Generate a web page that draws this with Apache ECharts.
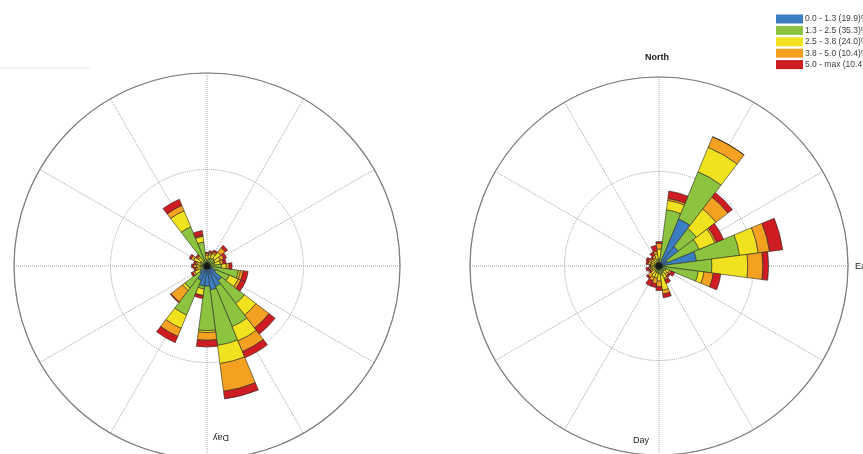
<!DOCTYPE html>
<html>
<head>
<meta charset="utf-8">
<script src="https://cdn.jsdelivr.net/npm/echarts@6/dist/echarts.min.js"></script>
<style>
  html, body { margin: 0; padding: 0; background: #ffffff; }
  #chart { width: 863px; height: 454px; }
</style>
</head>
<body>
<div id="chart"></div>
<script>
// Wind directions, 15 degree sectors clockwise from north
const directions = ['0', '15', '30', '45', '60', '75', '90', '105', '120', '135', '150', '165',
                    '180', '195', '210', '225', '240', '255', '270', '285', '300', '315', '330', '345'];

// Wind speed classes (legend)
const speedClasses = ['0.0 - 1.3 (19.9)%', '1.3 - 2.5 (35.3)%', '2.5 - 3.8 (24.0)%', '3.8 - 5.0 (10.4)%', '5.0 - max (10.4)%'];
const classColors = ['#3a7dc2', '#8cc43f', '#f0e21e', '#f4a020', '#cf1b22'];

// Left rose: frequency (%) per direction for each speed class
const leftBlue   = [0.05, 0.05, 0.1, 0.1, 0.1, 0.1, 0.15, 0.3, 0.5, 0.95, 1.15, 1.25, 1.05, 1.05, 0.8, 0.5, 0.15, 0.1, 0.1, 0.1, 0.1, 0.05, 0.05, 0.05];
const leftGreen  = [0.25, 0.35, 0.35, 0.4, 0.35, 0.3, 0.6, 1.35, 0.75, 1.5, 2.25, 2.9, 2.3, 0.15, 1.95, 0.95, 0.25, 0.2, 0.25, 0.2, 0.3, 0.25, 2.15, 1.2];
const leftYellow = [0.25, 0.2, 0.25, 0.4, 0.3, 0.3, 0.25, 0.1, 0.5, 0.75, 0.8, 0.95, 0.1, 0.35, 0.75, 0.15, 0.3, 0.2, 0.2, 0.2, 0.35, 0.25, 0.9, 0.3];
const leftOrange = [0.1, 0.1, 0.1, 0.3, 0.2, 0.15, 0.15, 0.15, 0.15, 0.85, 0.6, 1.45, 0.4, 0.0, 0.45, 0.75, 0.1, 0.1, 0.15, 0.1, 0.15, 0.1, 0.3, 0.05];
const leftRed    = [0.05, 0.1, 0.1, 0.15, 0.15, 0.15, 0.15, 0.25, 0.25, 0.4, 0.35, 0.4, 0.35, 0.15, 0.35, 0.05, 0.1, 0.1, 0.1, 0.1, 0.1, 0.1, 0.35, 0.25];

// Right rose: frequency (%) per direction for each speed class
const rightBlue   = [0.1, 0.1, 2.7, 1.3, 0.5, 2.0, 0.3, 0.2, 0.1, 0.05, 0.1, 0.1, 0.1, 0.05, 0.05, 0.05, 0.05, 0.05, 0.05, 0.05, 0.05, 0.05, 0.05, 0.05];
const rightGreen  = [0.3, 2.9, 2.7, 1.2, 1.8, 2.3, 2.5, 1.9, 0.3, 0.3, 0.3, 0.4, 0.3, 0.3, 0.3, 0.2, 0.15, 0.2, 0.15, 0.2, 0.2, 0.15, 0.2, 0.3];
const rightYellow = [0.5, 0.5, 1.4, 1.3, 0.9, 1.0, 1.9, 0.3, 0.2, 0.2, 0.3, 0.8, 0.4, 0.3, 0.3, 0.3, 0.2, 0.2, 0.15, 0.2, 0.2, 0.2, 0.2, 0.3];
const rightOrange = [0.3, 0.1, 0.6, 0.8, 0.1, 0.6, 0.8, 0.5, 0.1, 0.1, 0.1, 0.2, 0.3, 0.3, 0.2, 0.2, 0.1, 0.1, 0.1, 0.15, 0.15, 0.1, 0.15, 0.15];
const rightRed    = [0.1, 0.4, 0.0, 0.3, 0.4, 0.7, 0.3, 0.4, 0.2, 0.1, 0.2, 0.2, 0.2, 0.2, 0.3, 0.1, 0.1, 0.15, 0.05, 0.1, 0.15, 0.1, 0.2, 0.3];

// Radial scale: dotted ring every 5 %, solid outer circle at 10 %
const radiusMax = 10;
const ringStep = 5;

const leftClasses = [leftBlue, leftGreen, leftYellow, leftOrange, leftRed];
const rightClasses = [rightBlue, rightGreen, rightYellow, rightOrange, rightRed];

const FONT = 'Liberation Sans, Arial, sans-serif';
const leftCenter = [207, 266];
const rightCenter = [659, 266];
const LEFT_R = 193;
const RIGHT_R = 189;

function gridAngleAxis(polarIndex) {
  return {
    polarIndex, type: 'value', min: 0, max: 360, interval: 30,
    startAngle: 90, clockwise: true,
    axisLine: { show: true, lineStyle: { color: '#7c7c7c', width: 1.2 } },
    axisTick: { show: false }, axisLabel: { show: false },
    splitLine: { show: true, lineStyle: { color: '#a0a0a0', type: 'dotted', width: 1 } }
  };
}
function gridRadiusAxis(polarIndex) {
  return {
    polarIndex, type: 'value', min: 0, max: radiusMax, interval: ringStep,
    axisLine: { show: false }, axisTick: { show: false }, axisLabel: { show: false },
    splitLine: { show: true, lineStyle: { color: '#a0a0a0', type: 'dotted', width: 1 } }
  };
}
function dataAngleAxis(polarIndex) {
  return {
    polarIndex, type: 'category', data: directions,
    startAngle: 97.5, clockwise: true,
    axisLine: { show: false }, axisTick: { show: false }, axisLabel: { show: false },
    splitLine: { show: false }
  };
}
function dataRadiusAxis(polarIndex) {
  return {
    polarIndex, type: 'value', min: 0, max: radiusMax,
    axisLine: { show: false }, axisTick: { show: false }, axisLabel: { show: false },
    splitLine: { show: false }
  };
}

function roseSeries(classes, polarIndex, stackName) {
  const bars = classes.map((values, k) => ({
    type: 'bar',
    name: speedClasses[k],
    coordinateSystem: 'polar',
    polarIndex,
    stack: stackName,
    data: values,
    barCategoryGap: '0%',
    z: 3,
    itemStyle: { color: classColors[k], borderColor: '#2a2a22', borderWidth: 0.6 },
    emphasis: { disabled: true }
  }));
  // dark hub where all sectors meet
  bars.push({
    type: 'scatter', coordinateSystem: 'polar', polarIndex,
    data: [[0, directions[0]]], symbol: 'circle', symbolSize: 7, z: 4,
    itemStyle: { color: '#111111' }, silent: true
  });
  return bars;
}

const chart = echarts.init(document.getElementById('chart'), null, { renderer: 'canvas' });
chart.setOption({
  animation: false,
  backgroundColor: '#ffffff',
  polar: [
    { center: leftCenter, radius: [0, LEFT_R] },
    { center: leftCenter, radius: [0, LEFT_R] },
    { center: rightCenter, radius: [0, RIGHT_R] },
    { center: rightCenter, radius: [0, RIGHT_R] }
  ],
  angleAxis: [gridAngleAxis(0), dataAngleAxis(1), gridAngleAxis(2), dataAngleAxis(3)],
  radiusAxis: [gridRadiusAxis(0), dataRadiusAxis(1), gridRadiusAxis(2), dataRadiusAxis(3)],
  legend: {
    data: speedClasses,
    orient: 'vertical',
    left: 771, top: 9.5,
    itemWidth: 27, itemHeight: 9, itemGap: 2.4,
    icon: 'rect',
    selectedMode: false,
    itemStyle: { borderWidth: 0 },
    textStyle: { fontFamily: FONT, fontSize: 8.5, color: '#404040', padding: [0, 0, 0, -3] }
  },
  graphic: [
    { type: 'line', shape: { x1: 0, y1: 68, x2: 90, y2: 68 }, style: { stroke: '#e6e6e6', lineWidth: 1 } },
    { type: 'text', x: 657, y: 58, style: { text: 'North', font: 'bold 9px ' + FONT, fill: '#1a1a1a', align: 'center', verticalAlign: 'middle' } },
    { type: 'text', x: 855, y: 267, style: { text: 'East', font: '9px ' + FONT, fill: '#1a1a1a', align: 'left', verticalAlign: 'middle' } },
    { type: 'text', x: 641, y: 441, style: { text: 'Day', font: '9px ' + FONT, fill: '#1a1a1a', align: 'center', verticalAlign: 'middle' } },
    { type: 'text', x: 221, y: 437, rotation: Math.PI, style: { text: 'Day', font: '9px ' + FONT, fill: '#1a1a1a', align: 'center', verticalAlign: 'middle' } }
  ],
  series: [
    ...roseSeries(leftClasses, 1, 'left'),
    ...roseSeries(rightClasses, 3, 'right')
  ]
});
</script>
</body>
</html>
